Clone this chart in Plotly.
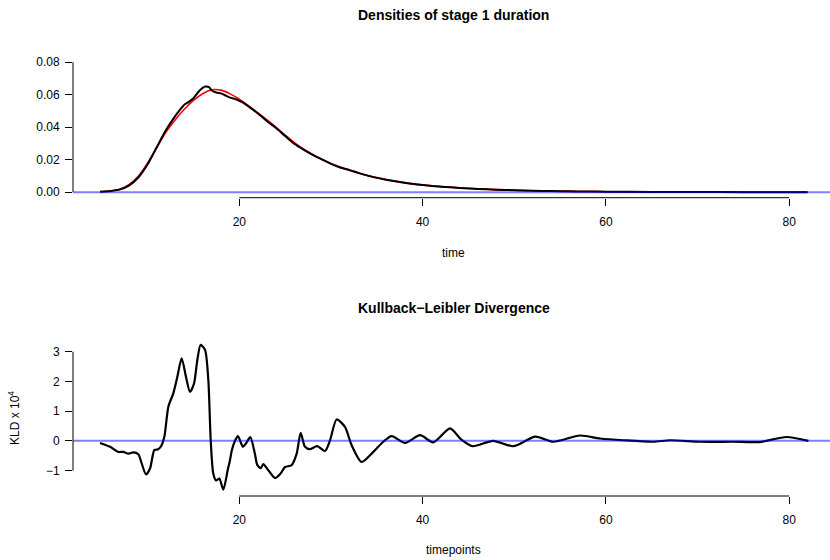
import plotly.graph_objects as go

# Stage 1 duration: fitted density (red) and kernel estimate (black)
fit_time = [4.8, 6, 7, 8, 9, 10, 11, 12, 13, 14, 15, 16, 17, 18, 19, 20, 21, 22, 23, 24,
            25, 26, 27, 28, 29, 30, 31, 32, 33, 34, 35, 36, 37, 38, 39, 40,
            42, 44, 46, 48, 50, 52, 54, 56, 58, 60, 65, 70, 75, 82]
fit_density = [0.0003, 0.0009, 0.0020, 0.0048, 0.0100, 0.0180, 0.0275, 0.0370, 0.0445, 0.0510,
               0.0565, 0.0606, 0.0630, 0.0628, 0.0605, 0.0572, 0.0532, 0.0490, 0.0446, 0.0400,
               0.0352, 0.0305, 0.0266, 0.0232, 0.0203, 0.0177, 0.0155, 0.0135, 0.0118, 0.0103,
               0.0090, 0.0078, 0.0068, 0.0059, 0.0051, 0.0045,
               0.0035, 0.0027, 0.0021, 0.0016, 0.0012, 0.0009, 0.0007, 0.0005, 0.0004, 0.0003,
               0.00014, 0.00007, 0.00003, 0.00001]

kde_time = [4.8, 6, 7, 8, 9, 10, 11, 12, 13, 13.5, 14, 14.5, 15, 15.5, 16, 16.3, 16.7, 17,
            17.5, 18, 18.5, 19, 19.5, 20, 20.5, 21, 22, 23, 24, 25, 26, 27, 28, 29, 30, 31,
            32, 33, 34, 35, 36, 37, 38, 39, 40, 42, 44, 46, 48, 50, 52, 54, 56, 58, 60,
            65, 70, 75, 82]
kde_density = [0.0002, 0.0007, 0.0017, 0.0042, 0.0092, 0.0172, 0.0278, 0.0382, 0.0468, 0.0505,
               0.0538, 0.0556, 0.0578, 0.0615, 0.0642, 0.0650, 0.0646, 0.0626, 0.0613, 0.0608,
               0.0595, 0.0582, 0.0574, 0.0562, 0.0548, 0.0528, 0.0486, 0.0438, 0.0395, 0.0346,
               0.0298, 0.0262, 0.0230, 0.0202, 0.0174, 0.0152, 0.0137, 0.0119, 0.0102, 0.0088,
               0.0077, 0.0067, 0.0058, 0.0050, 0.0044, 0.0034, 0.0026, 0.0020, 0.0015, 0.0012,
               0.0009, 0.0007, 0.0005, 0.0004, 0.0003, 0.00013, 0.00006, 0.00003, 0.00001]

# Kullback-Leibler divergence per timepoint (scaled by 10^4)
kld_time = [4.8, 5.9, 6.8, 7.35, 7.9, 8.44, 8.98, 9.35, 9.82, 10.26, 10.73, 11.1, 11.46, 11.82,
            12.26, 12.8, 13.24, 13.71, 14.18, 14.62, 15.06, 15.42, 15.78, 16.26, 16.62, 16.88,
            17.16, 17.46, 17.82, 18.26, 18.73, 18.95, 19.2, 19.5, 19.85, 20.4, 20.8, 21.2, 21.7,
            21.95, 22.35, 22.62, 23.2, 23.9, 24.5, 25.0, 25.7, 26.26, 26.7, 27.17, 27.7, 28.5,
            29.35, 29.9, 30.62, 31.53, 32.26, 33.35, 34.62, 35.71, 36.62, 38.08, 39.72, 41.17,
            42.99, 44.2, 45.45, 47.7, 49.9, 52.3, 54.26, 57.17, 59.36, 61.9, 65.17, 67.0,
            70.27, 73.9, 76.8, 79.7, 82.1]
kld_value = [-0.07, -0.20, -0.37, -0.37, -0.43, -0.39, -0.45, -0.76, -1.13, -0.93, -0.31, -0.29,
             -0.18, 0.14, 1.15, 1.60, 2.16, 2.78, 2.16, 1.65, 1.93, 2.72, 3.23, 3.06, 2.05, 0.02,
             -1.10, -1.33, -1.27, -1.64, -0.99, -0.70, -0.30, -0.02, 0.16, -0.20, -0.05, 0.13,
             -0.43, -0.80, -0.92, -0.78, -1.00, -1.25, -1.10, -0.88, -0.82, -0.43, 0.27, -0.20,
             -0.28, -0.18, -0.34, 0.02, 0.72, 0.47, -0.15, -0.71, -0.37, -0.03, 0.16, -0.07,
             0.19, -0.05, 0.42, 0.05, -0.18, 0.00, -0.18, 0.14, -0.03, 0.18, 0.08, 0.02, -0.03,
             0.02, -0.03, -0.03, -0.04, 0.13, 0.00]

x_ticks = [20, 40, 60, 80]
dens_ticks = [0.00, 0.02, 0.04, 0.06, 0.08]
kld_ticks = [-1, 0, 1, 2, 3]

FONT = "Liberation Sans, Arial, Helvetica, sans-serif"
X_RANGE = [1.855, 84.45]

fig = go.Figure()

fig.add_trace(go.Scatter(x=fit_time, y=fit_density, mode="lines",
                         line=dict(color="#ff0000", width=1.6, shape="spline", smoothing=0.6),
                         xaxis="x", yaxis="y", hoverinfo="skip"))
fig.add_trace(go.Scatter(x=kde_time, y=kde_density, mode="lines",
                         line=dict(color="#000000", width=2, shape="spline", smoothing=0.6),
                         xaxis="x", yaxis="y", hoverinfo="skip"))
fig.add_trace(go.Scatter(x=kld_time, y=kld_value, mode="lines",
                         line=dict(color="#000000", width=2.2, shape="spline", smoothing=0.7),
                         xaxis="x2", yaxis="y2", hoverinfo="skip"))

axis_common = dict(showgrid=False, zeroline=False, showline=False, ticks="outside",
                   ticklen=7, tickwidth=1, tickcolor="#000000",
                   tickfont=dict(family=FONT, size=12, color="#000000"))

fig.update_layout(
    width=830, height=560,
    margin=dict(l=73, r=0, t=57, b=64),
    paper_bgcolor="white", plot_bgcolor="white",
    showlegend=False,
    font=dict(family=FONT, size=12, color="#000000"),
    xaxis=dict(domain=[0, 1], range=X_RANGE, anchor="y", tickvals=x_ticks,
               ticklabelstandoff=6, **axis_common),
    yaxis=dict(domain=[0.6795, 1], range=[-0.0034, 0.0832], anchor="x",
               tickvals=dens_ticks, tickformat=".2f", ticklabelstandoff=3, **axis_common),
    xaxis2=dict(domain=[0, 1], range=X_RANGE, anchor="y2", tickvals=x_ticks,
                ticklabelstandoff=6, **axis_common),
    yaxis2=dict(domain=[0, 0.3551], range=[-1.855, 3.39], anchor="x2",
                tickvals=kld_ticks, ticklabelstandoff=3, **axis_common),
)

# R-style axis lines spanning only the tick range, plus the zero reference lines
shapes = [
    dict(type="line", xref="x", yref="y domain", x0=x_ticks[0], x1=x_ticks[-1], y0=0, y1=0,
         line=dict(color="#000000", width=1)),
    dict(type="line", xref="x domain", yref="y", x0=0, x1=0, y0=dens_ticks[0], y1=dens_ticks[-1],
         line=dict(color="#000000", width=1)),
    dict(type="line", xref="x2", yref="y2 domain", x0=x_ticks[0], x1=x_ticks[-1], y0=0, y1=0,
         line=dict(color="#000000", width=1)),
    dict(type="line", xref="x2 domain", yref="y2", x0=0, x1=0, y0=kld_ticks[0], y1=kld_ticks[-1],
         line=dict(color="#000000", width=1)),
    dict(type="line", xref="x domain", yref="y", x0=0, x1=1, y0=0, y1=0, layer="above",
         line=dict(color="rgba(0,0,255,0.5)", width=2)),
    dict(type="line", xref="x2 domain", yref="y2", x0=0, x1=1, y0=0, y1=0, layer="above",
         line=dict(color="rgba(0,0,255,0.5)", width=2)),
]
fig.update_layout(shapes=shapes)

def label(text, x, y, size=12, angle=0):
    return dict(text=text, x=x, y=y, xref="paper", yref="paper", showarrow=False,
                xanchor="center", yanchor="middle", textangle=angle,
                font=dict(family=FONT, size=size, color="#000000"))

fig.update_layout(annotations=[
    label("<b>Densities of stage 1 duration</b>", 0.503, 1.0957, size=14),
    label("time", 0.503, 0.5535),
    label("<b>Kullback\u2212Leibler Divergence</b>", 0.503, 0.4282, size=14),
    label("timepoints", 0.503, -0.123),
    label("KLD x 10<sup>4</sup>", -0.0779, 0.1777, angle=-90),
])

fig.write_html("out.html")
